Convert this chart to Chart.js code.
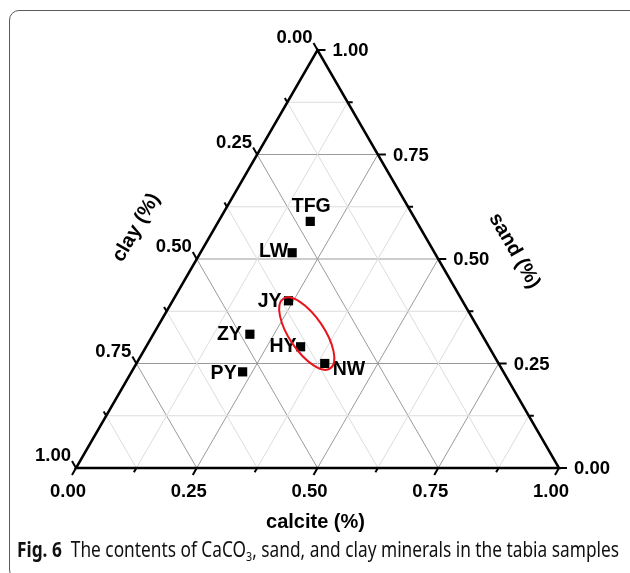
<!DOCTYPE html>
<html>
<head>
<meta charset="utf-8">
<script src="https://cdn.jsdelivr.net/npm/chart.js@4/dist/chart.umd.min.js"></script>
<style>
  html, body { margin: 0; padding: 0; background: #fff; }
  body { width: 630px; height: 573px; position: relative; overflow: hidden; }
  #frame {
    position: absolute; left: 9px; top: 10px; width: 700px; height: 568px;
    border: 1.5px solid #5a5a5a; border-radius: 10px;
  }
  #myChart { position: absolute; left: 0; top: 0; }
  #cap {
    position: absolute; left: 17px; top: 538px; white-space: nowrap;
    font-family: "Noto Sans", "Open Sans", sans-serif; font-size: 21px; line-height: 22px;
    color: #111; transform-origin: 0 0;
  }
  #cap b { font-weight: 700; }
  #cap sub { font-size: 13px; line-height: 0; vertical-align: -4px; }
</style>
</head>
<body>
<div id="frame"></div>
<canvas id="myChart" width="630" height="573"></canvas>
<div id="cap"><b>Fig. 6</b>&nbsp; The contents of CaCO<sub>3</sub>, sand, and clay minerals in the tabia samples</div>
<script>
// samples (fractions)
const samples = ['TFG', 'LW', 'JY', 'ZY', 'HY', 'NW', 'PY'];
const calcite = [0.19, 0.19, 0.24, 0.20, 0.32, 0.39, 0.23];
const sand    = [0.59, 0.515, 0.40, 0.32, 0.29, 0.25, 0.23];
const clay    = [0.22, 0.295, 0.36, 0.48, 0.39, 0.36, 0.54];

const majorTicks = [0, 0.25, 0.5, 0.75, 1];
const minorTicks = [0.125, 0.375, 0.625, 0.875];
const tickLabels = ['0.00', '0.25', '0.50', '0.75', '1.00'];

// highlighted group (JY, HY, NW) : centre in calcite/sand, half axes in side units
const groupCalcite = 0.317;
const groupSand = 0.3215;
const groupAxes = [0.087, 0.036];

const H3 = Math.sqrt(3) / 2;

// ternary -> cartesian (side = 1)
function toXY(c, s) {
    return { x: c + s / 2, y: s * H3 };
}

// label placement next to each marker: [align, dx, dy]
const labelPlace = {
    TFG: ['center', 1, -15],
    LW: ['right', -4, -1],
    JY: ['right', -7, 1],
    ZY: ['right', -8, 0],
    HY: ['right', -4, 0],
    NW: ['left', 8, 6],
    PY: ['right', -6, 2]
};

// grid segments
let gridSets = [];
function addGrid(v, color) {
    let segs = [
        [toXY(0, v), toXY(1 - v, v)],          // sand = v
        [toXY(v, 0), toXY(v, 1 - v)],          // calcite = v
        [toXY(1 - v, 0), toXY(0, 1 - v)]       // clay = v
    ];
    segs.forEach(function(s) {
        gridSets.push({
            type: 'line', data: s, showLine: true, borderColor: color,
            borderWidth: 1, pointRadius: 0, order: 5
        });
    });
}
minorTicks.forEach(function(v) { addGrid(v, '#dcdcdc'); });
majorTicks.slice(1, 4).forEach(function(v) { addGrid(v, '#9a9a9a'); });

let pts = [];
for (let i = 0; i < samples.length; i++) {
    pts.push(toXY(calcite[i], sand[i]));
}

const ternaryPlugin = {
    id: 'ternary',
    afterDraw: function(chart) {
        const ctx = chart.ctx;
        const sx = chart.scales.x, sy = chart.scales.y;
        function P(c, s) {
            let q = toXY(c, s);
            return [sx.getPixelForValue(q.x), sy.getPixelForValue(q.y)];
        }
        ctx.save();
        // outline
        let a = P(0, 0), b = P(1, 0), t = P(0, 1);
        ctx.strokeStyle = '#000';
        ctx.lineWidth = 2.5;
        ctx.lineJoin = 'miter';
        ctx.beginPath();
        ctx.moveTo(a[0], a[1]); ctx.lineTo(b[0], b[1]); ctx.lineTo(t[0], t[1]); ctx.closePath();
        ctx.stroke();

        // ticks
        ctx.lineWidth = 2;
        const dirs = {
            bottom: [-0.5, 0.866],
            right: [1, 0],
            left: [-0.5, -0.866]
        };
        function tick(p, d, len) {
            ctx.beginPath();
            ctx.moveTo(p[0], p[1]);
            ctx.lineTo(p[0] + d[0] * len, p[1] + d[1] * len);
            ctx.stroke();
            return [p[0] + d[0] * len, p[1] + d[1] * len];
        }
        minorTicks.forEach(function(v) {
            tick(P(v, 0), dirs.bottom, 5);
            tick(P(1 - v, v), dirs.right, 5);
            tick(P(0, 1 - v), dirs.left, 5);
        });
        ctx.fillStyle = '#000';
        ctx.font = 'bold 18.5px "Liberation Sans", Arial, sans-serif';
        majorTicks.forEach(function(v, i) {
            let e = tick(P(v, 0), dirs.bottom, 8);
            ctx.textAlign = 'center'; ctx.textBaseline = 'middle';
            ctx.fillText(tickLabels[i], e[0] - 4, e[1] + 17);

            e = tick(P(1 - v, v), dirs.right, 8);
            ctx.textAlign = 'left';
            ctx.fillText(tickLabels[i], e[0] + 7, e[1] + 1);

            e = tick(P(0, 1 - v), dirs.left, 8);
            ctx.textAlign = 'right';
            ctx.fillText(tickLabels[i], e[0] - 1, e[1] - 5);
        });

        // axis titles
        ctx.font = 'bold 20px "Liberation Sans", Arial, sans-serif';
        ctx.textAlign = 'center'; ctx.textBaseline = 'middle';
        let m = P(0.5, 0);
        ctx.fillText('calcite (%)', m[0] - 2, m[1] + 54);
        m = P(0, 0.5);
        ctx.save();
        ctx.translate(m[0] - 68 * 0.866 - 3 * 0.5, m[1] - 68 * 0.5 + 3 * 0.866);
        ctx.rotate(-Math.PI / 3);
        ctx.fillText('clay (%)', 0, 0);
        ctx.restore();
        m = P(0.5, 0.5);
        ctx.save();
        ctx.translate(m[0] + 70 * 0.866 + 31 * 0.5, m[1] - 70 * 0.5 + 31 * 0.866);
        ctx.rotate(Math.PI / 3);
        ctx.fillText('sand (%)', 0, 0);
        ctx.restore();

        // sample labels
        ctx.font = 'bold 19.5px "Liberation Sans", Arial, sans-serif';
        ctx.textBaseline = 'middle';
        samples.forEach(function(name, i) {
            let p = P(calcite[i], sand[i]);
            let lp = labelPlace[name];
            ctx.textAlign = lp[0];
            ctx.fillText(name, p[0] + lp[1], p[1] + lp[2]);
        });

        // red ellipse round the JY-HY-NW group
        let c = P(groupCalcite, groupSand);
        let unit = sx.getPixelForValue(1) - sx.getPixelForValue(0);
        ctx.strokeStyle = '#e8141c';
        ctx.lineWidth = 2;
        ctx.beginPath();
        ctx.ellipse(c[0], c[1], groupAxes[0] * unit, groupAxes[1] * unit, 56 * Math.PI / 180, 0, Math.PI * 2);
        ctx.stroke();
        ctx.restore();
    }
};

const config = {
    type: 'scatter',
    data: {
        datasets: [{
            label: 'samples',
            data: pts,
            pointStyle: 'rect',
            pointRadius: 6.5,
            pointBackgroundColor: '#000',
            pointBorderWidth: 0,
            order: 0
        }].concat(gridSets)
    },
    options: {
        responsive: false,
        animation: false,
        devicePixelRatio: 1,
        layout: { padding: { left: 76, right: 71, top: 50, bottom: 105 } },
        scales: {
            x: { type: 'linear', min: 0, max: 1, display: false },
            y: { type: 'linear', min: 0, max: H3, display: false }
        },
        plugins: {
            legend: { display: false },
            tooltip: { enabled: false }
        }
    },
    plugins: [ternaryPlugin]
};

const myChart = new Chart(document.getElementById('myChart').getContext('2d'), config);

// fit caption to the frame width
const cap = document.getElementById('cap');
const w = cap.getBoundingClientRect().width;
cap.style.transform = 'scaleX(' + (602 / w) + ')';
</script>
</body>
</html>
